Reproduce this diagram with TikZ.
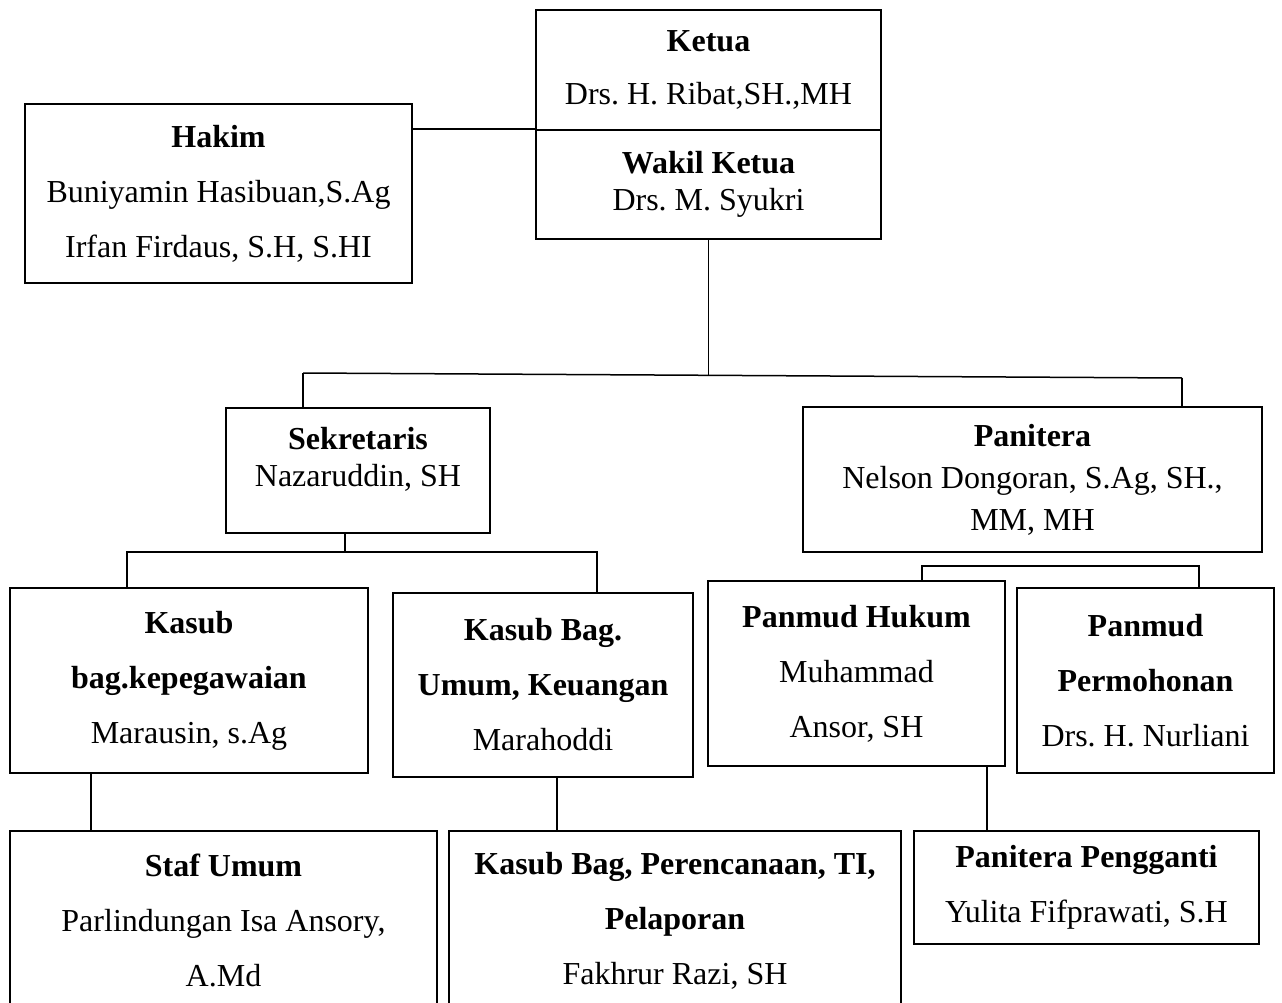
\documentclass[tikz,border=0pt]{standalone}
\usepackage{fontspec}
\setmainfont{Liberation Serif}
\frenchspacing

\begin{document}
\begin{tikzpicture}[x=1pt,y=-1pt]
\tikzset{box/.style = {draw, line width=2pt, inner sep=0pt, align=center, font=\fontsize{32}{55}\selectfont}}
\tikzset{wire/.style = {line width=1.5pt}}

\clip (0,0) rectangle (1282,1003);
\fill[white] (0,0) rectangle (1282,1003);

% top
\node[box, minimum width=345, minimum height=120, font=\fontsize{32}{53}\selectfont] (ketua) at (708.5,70) {\textbf{Ketua}\\Drs. H. Ribat,SH.,MH};
\node[box, minimum width=345, minimum height=109, font=\fontsize{32}{37}\selectfont] (wakil) at (708.5,184.5) {\textbf{Wakil Ketua}\\Drs. M. Syukri};
\node[box, minimum width=387, minimum height=179] (hakim) at (218.5,193.5) {\textbf{Hakim}\\Buniyamin Hasibuan,S.Ag\\Irfan Firdaus, S.H, S.HI};

% second level
\node[box, minimum width=264, minimum height=125, font=\fontsize{32}{37}\selectfont] (sek) at (358,470.5) {\textbf{Sekretaris}\\Nazaruddin, SH\\[-10pt]\mbox{}};
\node[box, minimum width=459, minimum height=145, font=\fontsize{32}{42}\selectfont] (pan) at (1032.5,479.5) {\textbf{Panitera}\\Nelson Dongoran, S.Ag, SH.,\\MM, MH};

% third level
\node[box, minimum width=358, minimum height=185] (kepeg) at (189,680.5) {\textbf{Kasub}\\\textbf{bag.kepegawaian}\\Marausin, s.Ag};
\node[box, minimum width=300, minimum height=184] (umum) at (543,685) {\textbf{Kasub Bag.}\\\textbf{Umum, Keuangan}\\Marahoddi};
\node[box, minimum width=297, minimum height=185] (hukum) at (856.5,673.5) {\textbf{Panmud Hukum}\\Muhammad\\Ansor, SH};
\node[box, minimum width=257, minimum height=185] (perm) at (1145.5,680.5) {\textbf{Panmud}\\\textbf{Permohonan}\\Drs. H. Nurliani};

% bottom
\node[box, minimum width=427, minimum height=179] (staf) at (223.5,920.5) {\textbf{Staf Umum}\\Parlindungan Isa Ansory,\\A.Md};
\node[box, minimum width=452, minimum height=179] (plan) at (675,920.5) {\textbf{Kasub Bag, Perencanaan, TI,}\\\textbf{Pelaporan}\\Fakhrur Razi, SH};
\node[box, minimum width=345, minimum height=113] (pengganti) at (1086.5,887.5) {\textbf{Panitera Pengganti}\\Yulita Fifprawati, S.H};

% connectors
\draw[wire] (wakil.north west) -- (wakil.north west -| hakim.east);

\coordinate (busL) at (303,373);
\coordinate (busM) at (708.5,375.5);
\coordinate (busR) at (1182,378);
\draw[wire] (wakil.south) -- (busM);
\draw[wire] (busL) -- (busR);
\draw[wire] (busL) -- (busL |- sek.north);
\draw[wire] (busR) -- (busR |- pan.north);

\coordinate (sekB) at (345,552);
\coordinate (sekL) at (127,552);
\coordinate (sekR) at (597,552);
\draw[wire] (sekB |- sek.south) -- (sekB);
\draw[wire] (sekL |- kepeg.north) -- (sekL) -- (sekR) -- (sekR |- umum.north);

\coordinate (panL) at (922,566);
\coordinate (panR) at (1199,566);
\draw[wire] (panL |- hukum.north) -- (panL) -- (panR) -- (panR |- perm.north);

\draw[wire] ([xshift=82]kepeg.south west) -- ([xshift=82]kepeg.south west |- staf.north);
\draw[wire] ([xshift=165]umum.south west) -- ([xshift=165]umum.south west |- plan.north);
\draw[wire] ([xshift=280]hukum.south west) -- ([xshift=280]hukum.south west |- pengganti.north);

\end{tikzpicture}
\end{document}
